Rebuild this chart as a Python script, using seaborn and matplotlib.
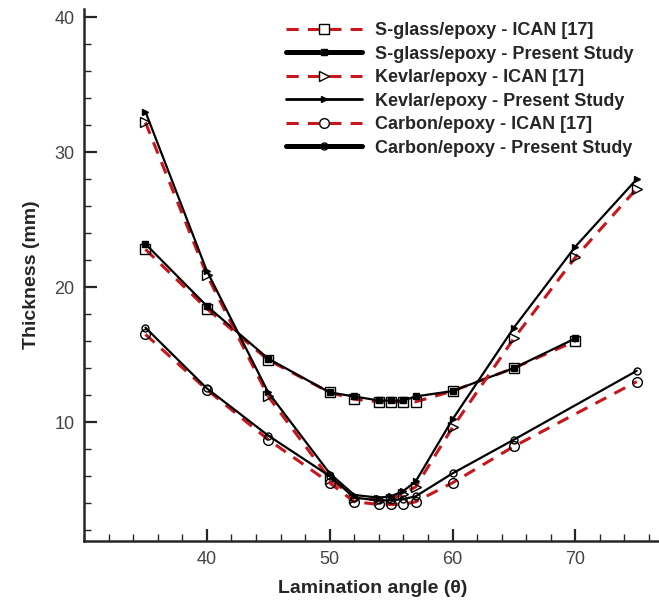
import matplotlib
matplotlib.use('Agg')
import matplotlib.pyplot as plt
import seaborn as sns
from matplotlib.ticker import MultipleLocator

# Data
angles_sglass = [35, 40, 45, 50, 52, 54, 55, 56, 57, 60, 65, 70]
sglass_ican = [22.8, 18.4, 14.6, 12.2, 11.7, 11.5, 11.5, 11.5, 11.5, 12.3, 14.0, 16.0]
sglass_present = [23.2, 18.6, 14.7, 12.2, 11.9, 11.6, 11.6, 11.6, 11.9, 12.3, 14.0, 16.2]

angles_kevlar = [35, 40, 45, 50, 52, 54, 55, 56, 57, 60, 65, 70, 75]
kevlar_ican = [32.2, 20.9, 11.9, 5.8, 4.4, 4.2, 4.3, 4.7, 5.2, 9.6, 16.2, 22.2, 27.3]
kevlar_present = [33.0, 21.2, 12.2, 6.2, 4.6, 4.4, 4.5, 4.9, 5.6, 10.2, 17.0, 23.0, 28.0]

angles_carbon = [35, 40, 45, 50, 52, 54, 55, 56, 57, 60, 65, 75]
carbon_ican = [16.5, 12.4, 8.7, 5.5, 4.1, 3.9, 3.9, 3.9, 4.1, 5.5, 8.2, 13.0]
carbon_present = [17.0, 12.5, 9.0, 6.0, 4.4, 4.2, 4.2, 4.3, 4.5, 6.2, 8.7, 13.8]

sns.set_style('ticks')
plt.rcParams['font.family'] = ['Liberation Sans', 'DejaVu Sans']

red = '#c8161d'
dash = (0, (4, 3))

fig = plt.figure(figsize=(6.59, 6.05), dpi=100)
ax = fig.add_axes([0.1275, 0.106, 0.876, 0.879])

series = [
    ('S-glass/epoxy', angles_sglass, sglass_ican, sglass_present, 's'),
    ('Kevlar/epoxy', angles_kevlar, kevlar_ican, kevlar_present, '>'),
    ('Carbon/epoxy', angles_carbon, carbon_ican, carbon_present, 'o'),
]
for name, x, y_ican, y_present, m in series:
    sns.lineplot(x=x, y=y_ican, ax=ax, color=red, linestyle=dash, lw=2.2,
                 marker=m, markersize=7, markerfacecolor='none',
                 markeredgecolor='black', markeredgewidth=1.0,
                 label=f'{name} - ICAN [17]')
    face = 'none' if m == 'o' else 'black'
    sns.lineplot(x=x, y=y_present, ax=ax, color='black', lw=1.6,
                 marker=m, markersize=5, markerfacecolor=face,
                 markeredgecolor='black', markeredgewidth=1.0,
                 label=f'{name} - Present Study')

ax.set_xlim(30, 77)
ax.set_ylim(1.2, 40.6)
ax.xaxis.set_major_locator(MultipleLocator(10))
ax.xaxis.set_minor_locator(MultipleLocator(2))
ax.yaxis.set_major_locator(MultipleLocator(10))
ax.yaxis.set_minor_locator(MultipleLocator(2))
ax.tick_params(which='major', direction='in', length=9, width=1.6,
               labelsize=13, labelcolor='#444444', pad=7)
ax.tick_params(which='minor', direction='in', length=5, width=1.0)
ax.set_xticks([40, 50, 60, 70])
ax.set_yticks([10, 20, 30, 40])
ax.spines[['top', 'right']].set_visible(False)
ax.spines[['left', 'bottom']].set_linewidth(1.8)

ax.set_xlabel('Lamination angle (θ)', fontsize=14, fontweight='bold', labelpad=9)
ax.set_ylabel('Thickness (mm)', fontsize=14, fontweight='bold', labelpad=10)

leg = ax.legend(loc='upper left', bbox_to_anchor=(0.41, 0.99),
                bbox_transform=fig.transFigure, frameon=False,
                handlelength=4.2, labelspacing=0.36, handletextpad=0.7,
                prop={'weight': 'bold', 'size': 13})
for line, lw in zip(leg.get_lines(), [2.2, 3.6, 2.2, 2.0, 2.2, 3.6]):
    line.set_linewidth(lw)

fig.savefig('out.png', dpi=100)
